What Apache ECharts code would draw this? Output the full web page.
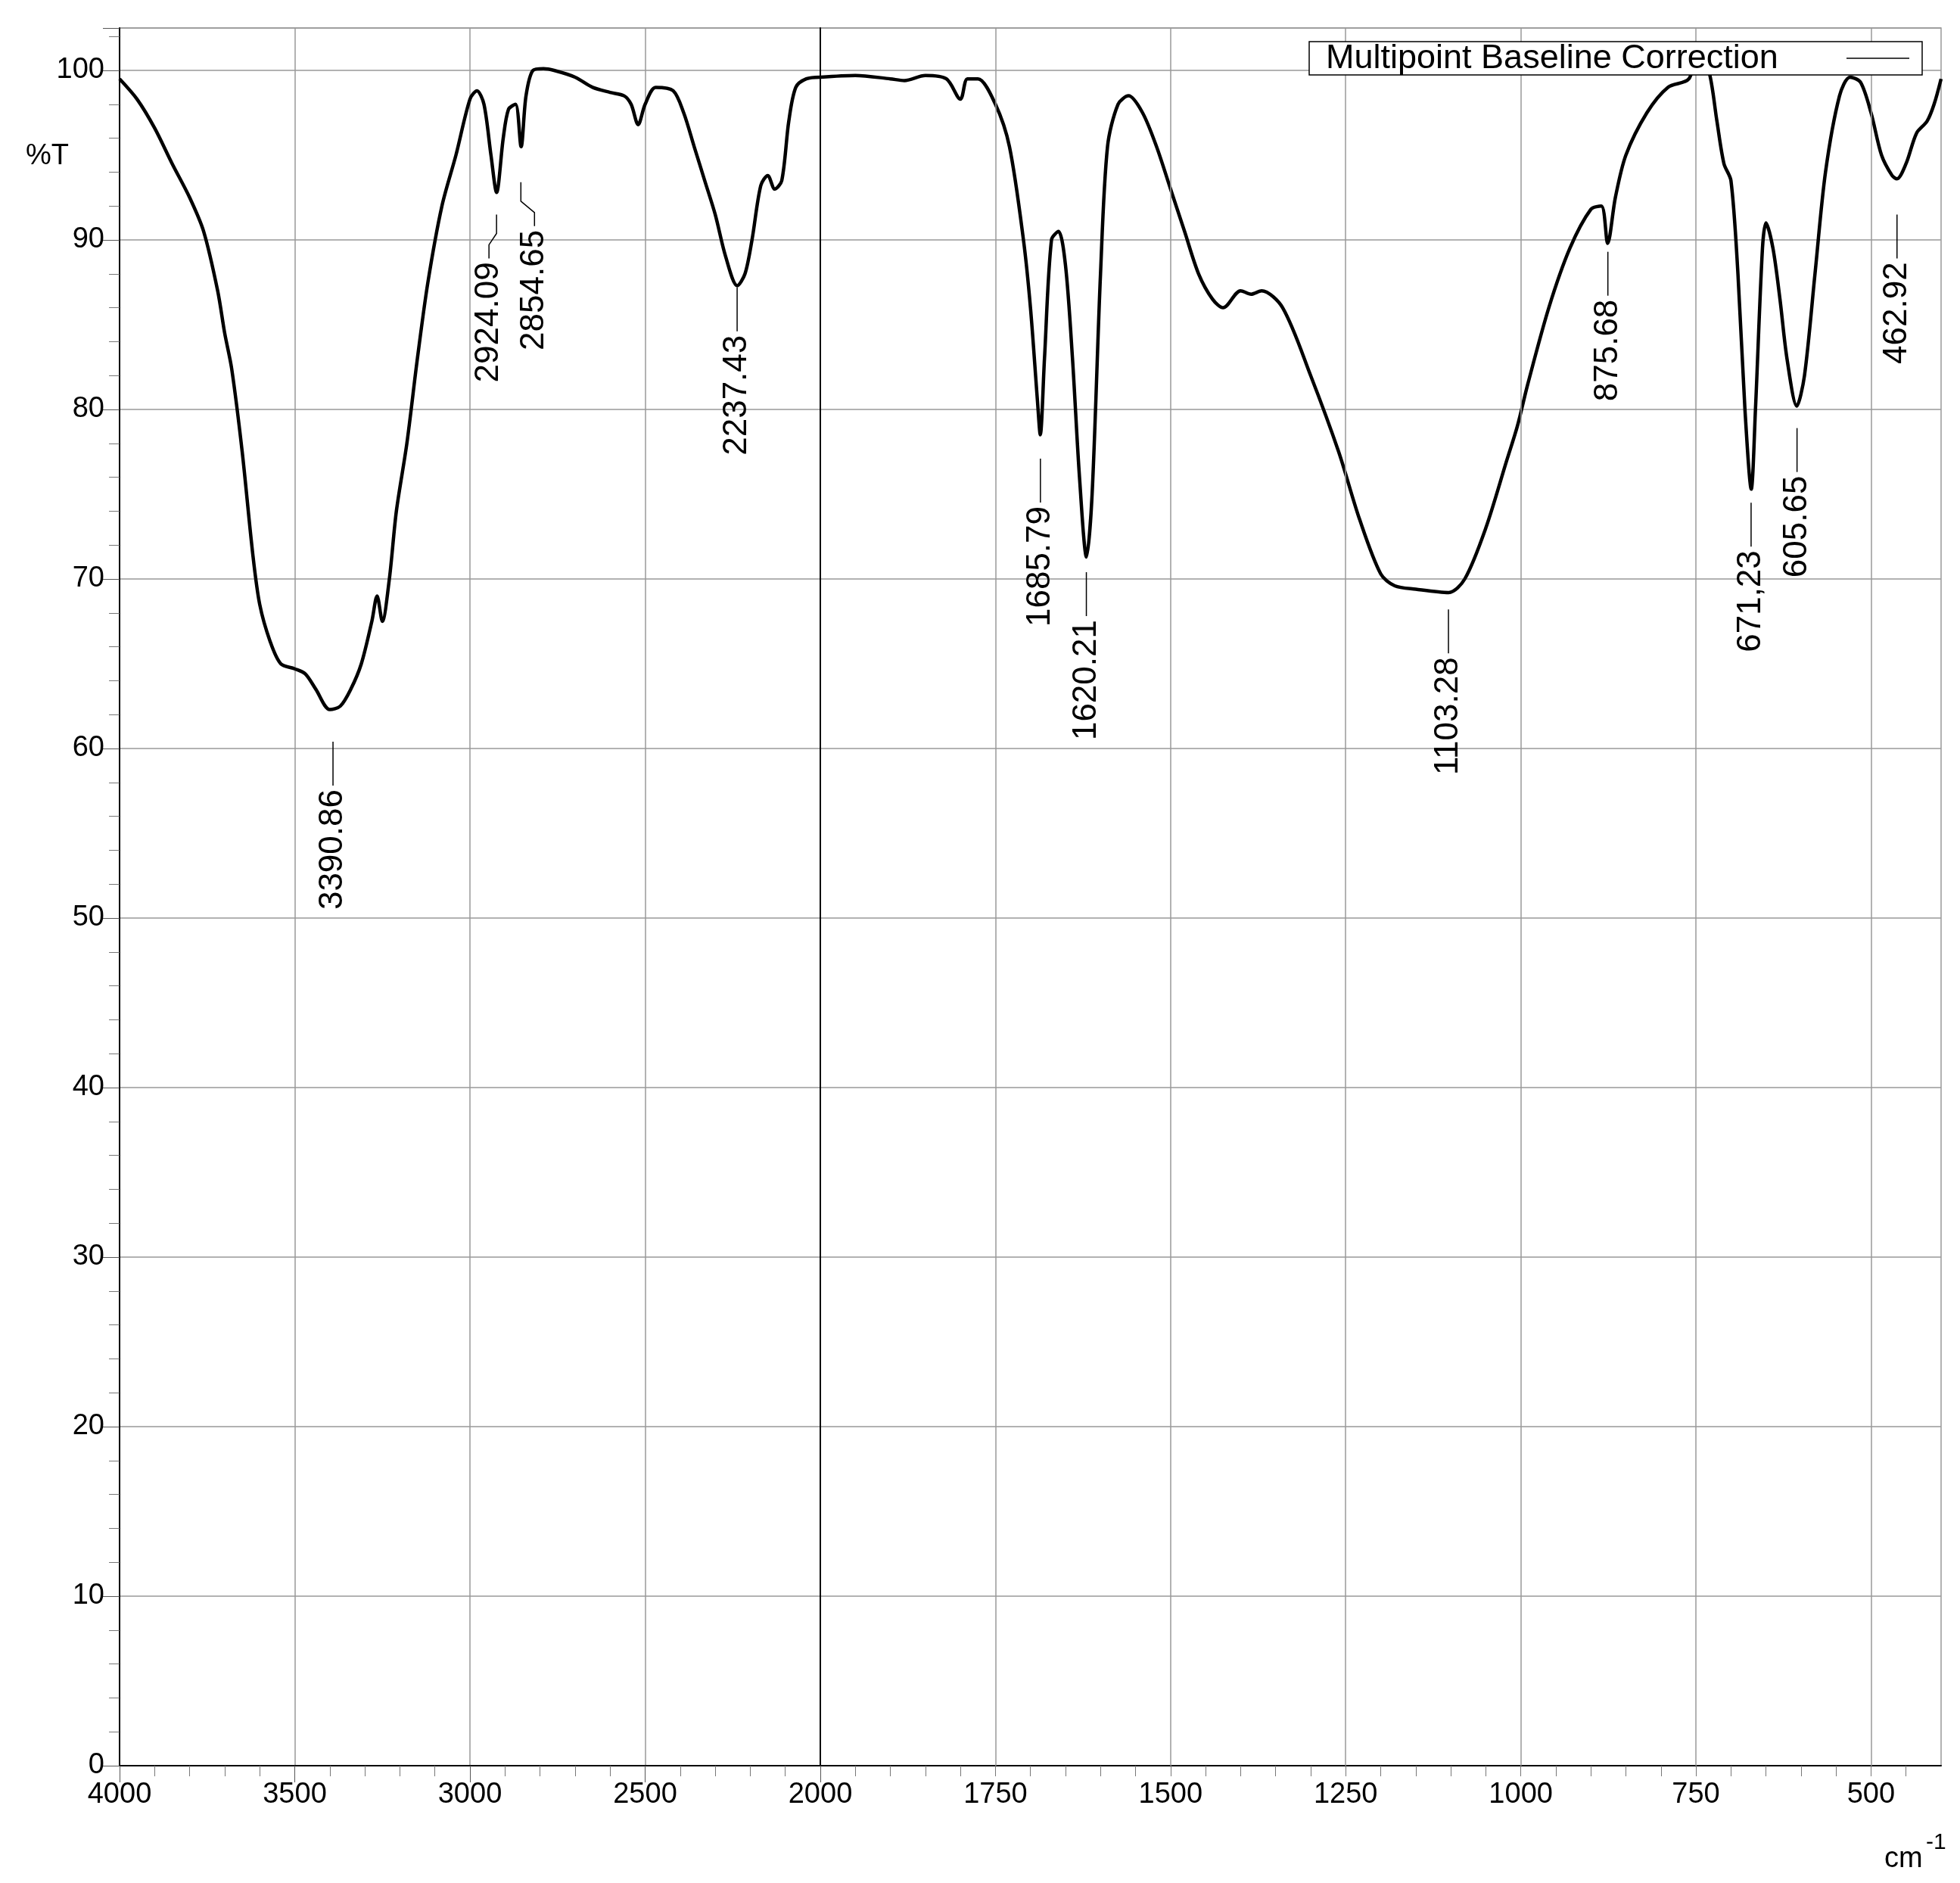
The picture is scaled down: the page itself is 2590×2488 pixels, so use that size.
<!DOCTYPE html>
<html>
<head>
<meta charset="utf-8">
<script src="https://cdn.jsdelivr.net/npm/echarts@6/dist/echarts.min.js"></script>
<style>html,body{margin:0;padding:0;background:#fff}#chart{width:2590px;height:2488px}</style>
</head>
<body>
<div id="chart"></div>
<script>
/* IR spectrum, %T vs wavenumber (split scale at 2000) */
// left part 4000-2000
var leftWn = [4000,3950,3900,3850,3800,3760,3720,3700,3680,3650,3620,3600,3570,3540,3500,3470,3440,3400,3370,3340,3310,3280,3265,3250,3230,3210,3180,3150,3120,3080,3040,3000,2980,2960,2940,2924,2905,2890,2870,2854,2840,2820,2790,2760,2700,2650,2600,2560,2540,2520,2500,2470,2420,2390,2360,2330,2300,2270,2237,2215,2195,2170,2150,2130,2110,2090,2070,2040,2000]
var leftT = [99.5,98.3,96.6,94.5,92.5,90.5,87,84.5,82.4,77.5,71.5,68.5,66.3,65,64.7,64.4,63.5,62.3,62.5,63.5,65,67.5,69,67.5,70,74,78,83,87.5,92,95,98.3,98.8,98,95,92.8,96,97.7,98,95.5,98.5,100,100.1,100,99.6,99,98.7,98.5,98,96.8,98,99,98.8,97.5,95.5,93.5,91.5,89,87.3,88,90,93.2,93.8,93,93.5,97,99,99.5,99.6]
// right part 2000-400
var rightWn = [2000,1950,1900,1880,1850,1820,1800,1790,1775,1750,1730,1710,1700,1690,1686,1680,1670,1660,1650,1640,1630,1620,1612,1600,1590,1575,1560,1540,1520,1500,1480,1460,1440,1425,1400,1385,1370,1340,1300,1260,1230,1200,1180,1150,1103,1080,1050,1020,1005,990,960,930,900,885,876,865,850,820,790,760,745,730,720,710,700,690,680,671,665,655,650,640,630,620,606,595,580,565,545,530,515,500,485,470,463,450,435,420,410,400]
var rightT = [99.6,99.7,99.5,99.4,99.7,99.5,98.3,99.5,99.5,98,95.5,90,86,80.5,78.5,83,90,90.5,88.5,83,76,71.3,75,88,95.5,98,98.5,97.5,95.5,93,90.5,88,86.5,86,87,86.8,87,86,82,77.5,73.5,70.3,69.6,69.4,69.2,70,73,77,79,81.5,86,89.5,91.8,92,89.8,92.5,95,97.5,99,99.5,101.5,99.7,97,94.5,93.5,88,80,75.3,80,89.5,91,89.5,86.5,83,80.2,82,88,94,98.5,99.6,99.3,97.5,95,93.8,93.6,94.5,96.3,97,98,99.5]
// peak labels: position, top of leader line (%T), text
var peakWn = [3390.86,2924.09,2854.65,2237.43,1685.79,1620.21,1103.28,875.68,671.23,605.65,462.92]
var peakTop = [60.4,91.5,93.4,87.2,77.1,70.4,68.2,89.3,74.5,78.9,91.5]
var peakText = ['3390.86','2924.09','2854.65','2237.43','1685.79','1620.21','1103.28','875.68','671,23','605.65','462.92']

var FONT = 'Liberation Sans'
var labelOffset = { '2924.09': -10, '2854.65': 18 }
var chart = echarts.init(document.getElementById('chart'))

function pairs(xs, ys) { return xs.map(function (x, i) { return [x, ys[i]] }) }
function peaks(left) {
  var out = []
  peakWn.forEach(function (w, i) {
    if ((w >= 2000) === left) out.push([w, peakTop[i], i])
  })
  return out
}
function renderPeak(params, api) {
  var p = api.coord([api.value(0), api.value(1)])
  var txt = peakText[api.value(2)]
  var dx = labelOffset[txt] || 0
  return {
    type: 'group',
    children: [
      { type: 'polyline', shape: { points: [[p[0], p[1]], [p[0], p[1] + 25], [p[0] + dx, p[1] + 40], [p[0] + dx, p[1] + 58]] },
        style: { stroke: '#000', lineWidth: 1.5, fill: null } },
      { type: 'text', x: p[0] + dx, y: p[1] + 63, rotation: Math.PI / 2,
        style: { text: txt, font: '44px ' + FONT, fill: '#000', align: 'right', verticalAlign: 'middle' } }
    ]
  }
}
var gridLineStyle = { color: '#999', width: 1.5 }
var yAxisBase = {
  type: 'value', min: 0, max: 102.5, interval: 10,
  axisLine: { show: true, lineStyle: { color: '#000', width: 2 } },
  splitLine: { show: true, lineStyle: gridLineStyle },
  minorTick: { show: true, splitNumber: 5, length: 14, lineStyle: { color: '#777' } },
  axisTick: { show: true, length: 22, lineStyle: { color: '#555' } }
}
var vLine = function (vals) {
  return { silent: true, symbol: 'none', label: { show: false }, lineStyle: { color: '#999', width: 1.5, type: 'solid' },
    data: vals.map(function (v) { return { xAxis: v } }) }
}

var option = {
  backgroundColor: '#fff',
  animation: false,
  grid: [
    { left: 158, top: 37, width: 926, height: 2296, show: true, borderColor: '#999', borderWidth: 1.5 },
    { left: 1084, top: 37, width: 1481, height: 2296, show: true, borderColor: '#999', borderWidth: 1.5 }
  ],
  xAxis: [
    { type: 'value', gridIndex: 0, min: 2000, max: 4000, interval: 500, inverse: true,
      axisLine: { lineStyle: { color: '#000', width: 2 } },
      axisTick: { length: 22, lineStyle: { color: '#555' } },
      minorTick: { show: true, splitNumber: 5, length: 14, lineStyle: { color: '#777' } },
      splitLine: { show: true, lineStyle: gridLineStyle },
      axisLabel: { fontFamily: FONT, fontSize: 38, color: '#000', margin: 20, formatter: function (v) { return String(v) } } },
    { type: 'value', gridIndex: 1, min: 400, max: 2000, interval: 50, inverse: true,
      axisLine: { lineStyle: { color: '#000', width: 2 } },
      axisTick: { length: 14, lineStyle: { color: '#777' } },
      splitLine: { show: false },
      axisLabel: { fontFamily: FONT, fontSize: 38, color: '#000', margin: 20, showMinLabel: false, showMaxLabel: false,
        formatter: function (v) { return v % 250 === 0 ? String(v) : '' } } }
  ],
  yAxis: [
    Object.assign({}, yAxisBase, { gridIndex: 0,
      axisLabel: { fontFamily: FONT, fontSize: 38, color: '#000', margin: 20, showMaxLabel: false } }),
    Object.assign({}, yAxisBase, { gridIndex: 1, axisLine: { show: true, lineStyle: { color: '#000', width: 2 } },
      axisTick: { show: false }, minorTick: { show: false }, axisLabel: { show: false } })
  ],
  series: [
    { type: 'line', xAxisIndex: 0, yAxisIndex: 0, data: pairs(leftWn, leftT), symbol: 'none', smooth: 0.3,
      lineStyle: { color: '#000', width: 4.5 } },
    { type: 'line', xAxisIndex: 1, yAxisIndex: 1, data: pairs(rightWn, rightT), symbol: 'none', smooth: 0.3,
      lineStyle: { color: '#000', width: 4.5 }, markLine: vLine([1750, 1500, 1250, 1000, 750, 500]) },
    { type: 'custom', xAxisIndex: 0, yAxisIndex: 0, data: peaks(true), renderItem: renderPeak },
    { type: 'custom', xAxisIndex: 1, yAxisIndex: 1, data: peaks(false), renderItem: renderPeak }
  ],
  graphic: [
    { type: 'rect', z: 100, shape: { x: 1730, y: 55, width: 810, height: 44 }, style: { fill: '#fff', stroke: '#000', lineWidth: 1.5 } },
    { type: 'text', z: 101, x: 1752, y: 78, style: { text: 'Multipoint Baseline Correction', fontSize: 45, fontFamily: FONT, fill: '#000', verticalAlign: 'middle' } },
    { type: 'line', z: 101, shape: { x1: 2440, y1: 77, x2: 2523, y2: 77 }, style: { stroke: '#000', lineWidth: 1.5 } },
    { type: 'text', x: 34, y: 207, style: { text: '%T', fontSize: 38, fontFamily: FONT, fill: '#000', verticalAlign: 'middle' } },
    { type: 'text', x: 2490, y: 2438, style: { text: 'cm', fontSize: 38, fontFamily: FONT, fill: '#000' } },
    { type: 'text', x: 2545, y: 2420, style: { text: '-1', fontSize: 30, fontFamily: FONT, fill: '#000' } }
  ]
}
chart.setOption(option)
</script>
</body>
</html>
